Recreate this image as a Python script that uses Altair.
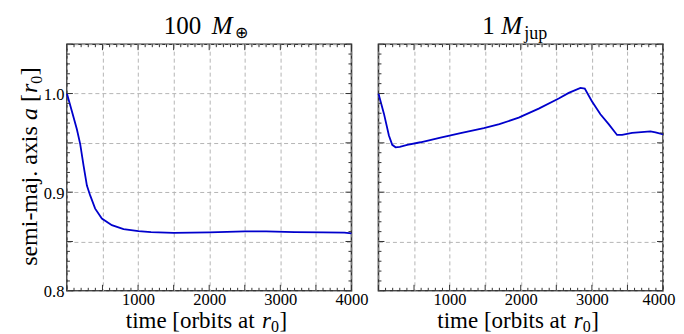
import altair as alt
import pandas as pd

# ---- data ----
t_earth = [0, 70, 140, 187, 234, 281, 327, 397, 491, 632, 796, 1006, 1183, 1500, 2000,
           2500, 2800, 3200, 3600, 3900, 4000]
a_earth = [1.0, 0.982, 0.9638, 0.9487, 0.9269, 0.9067, 0.8967, 0.8833, 0.8733, 0.8665,
           0.8625, 0.8605, 0.8595, 0.8588, 0.8592, 0.8602, 0.8602, 0.8595, 0.8593, 0.8590, 0.8582]

t_jup = [0, 77, 147, 194, 241, 300, 404, 592, 873, 1154, 1481, 1700, 1972, 2253, 2534,
         2675, 2840, 2900, 3000, 3120, 3236, 3354, 3425, 3565, 3823, 3894, 3988, 4000]
a_jup = [1.0, 0.9796, 0.9574, 0.948, 0.9455, 0.946, 0.9479, 0.9506, 0.9554, 0.9598, 0.9649,
         0.9690, 0.9755, 0.9847, 0.9949, 1.0006, 1.0057, 1.0051, 0.9921, 0.979, 0.969, 0.958,
         0.958, 0.960, 0.9617, 0.9606, 0.9588, 0.9588]

x_major = [0, 500, 1000, 1500, 2000, 2500, 3000, 3500, 4000]
x_minor = [v for v in range(0, 4001, 100) if v % 500 != 0]
y_major = [0.80, 0.85, 0.90, 0.95, 1.00, 1.05]
y_minor = [round(0.80 + 0.01 * i, 2) for i in range(26) if i % 5 != 0]

titles_left = ["100", "M", "⊕"]
titles_right = ["1", "M", "jup"]
xtitle = ["time [orbits at", "r", "0", "]"]
ytitle = ["semi-maj. axis", "a", "[", "r", "0", "]"]

FONT = "Liberation Serif"
W, H = 285, 247
LINE_COLOR = "#0000cc"
FRAME = "#333333"

xs = alt.Scale(domain=[0, 4000], nice=False, zero=False)
ys = alt.Scale(domain=[0.8, 1.05], nice=False, zero=False)

XLABEL_EXPR = "datum.value % 1000 == 0 && datum.value > 0 ? format(datum.value, 'd') : ''"


def make_axes(left):
    if left:
        xaxis = alt.Axis(values=x_major, grid=True, ticks=False, domain=False, labelFlush=False,
                         labelExpr=XLABEL_EXPR, title="", labelPadding=1)
        yaxis = alt.Axis(values=y_major, grid=True, ticks=False, domain=False, labelFlush=False,
                         labelExpr="abs(datum.value*10 - round(datum.value*10)) < 0.001 ? format(datum.value, '.1f') : ''",
                         title="", labelPadding=3, labelBaseline="middle", labelOffset=1)
    else:
        xaxis = alt.Axis(values=x_major, grid=True, ticks=False, domain=False, labelFlush=True,
                         labelFlushOffset=12, labelExpr=XLABEL_EXPR, title="", labelPadding=1)
        yaxis = alt.Axis(values=y_major, grid=True, ticks=False, domain=False,
                         labels=False, title="")
    return xaxis, yaxis


def ticks_layers(xaxis, yaxis):
    mx = pd.DataFrame({"t": x_major})
    nx = pd.DataFrame({"t": x_minor})
    my = pd.DataFrame({"a": y_major})
    ny = pd.DataFrame({"a": y_minor})
    layers = []
    for df, L in ((mx, 6), (nx, 3)):
        base = alt.Chart(df).mark_rule(color=FRAME, strokeWidth=1)
        layers.append(base.encode(x=alt.X("t:Q", scale=xs, axis=xaxis),
                                  y=alt.value(H), y2=alt.value(H - L)))
        layers.append(base.encode(x=alt.X("t:Q", scale=xs, axis=xaxis),
                                  y=alt.value(0), y2=alt.value(L)))
    for df, L in ((my, 6), (ny, 3)):
        base = alt.Chart(df).mark_rule(color=FRAME, strokeWidth=1)
        layers.append(base.encode(y=alt.Y("a:Q", scale=ys, axis=yaxis),
                                  x=alt.value(0), x2=alt.value(L)))
        layers.append(base.encode(y=alt.Y("a:Q", scale=ys, axis=yaxis),
                                  x=alt.value(W), x2=alt.value(W - L)))
    return layers


def text_layers(parts, angle=0):
    out = []
    for text, x, y, size, style in parts:
        kw = dict(text=text, font=FONT, fontSize=size, fontStyle=style, align="left",
                  baseline="alphabetic", color="black")
        if angle:
            kw["angle"] = angle
        out.append(alt.Chart(alt.Data(values=[{}])).mark_text(**kw).encode(
            x=alt.value(x), y=alt.value(y)))
    return out


# x-axis title pieces (positions relative to the plot area)
XB = H + 37
x_title_parts = [
    (xtitle[0], 59, XB, 23, "normal"),
    (xtitle[1], 195.5, XB, 23, "italic"),
    (xtitle[2], 204.5, XB + 4, 16, "normal"),
    (xtitle[3], 213, XB, 23, "normal"),
]
# y-axis title pieces (rotated, reading bottom to top)
YX = -30
y_title_parts = [
    (ytitle[0], YX, 222, 24, "normal"),
    (ytitle[1], YX, 76, 24, "italic"),
    (ytitle[2], YX, 58, 24, "normal"),
    (ytitle[3], YX, 49, 24, "italic"),
    (ytitle[4], YX + 5, 39.5, 16, "normal"),
    (ytitle[5], YX, 31, 24, "normal"),
]


def panel(t, a, left, parts):
    df = pd.DataFrame({"t": t, "a": a})
    xaxis, yaxis = make_axes(left)
    line = alt.Chart(df).mark_line(color=LINE_COLOR, strokeWidth=1.8).encode(
        x=alt.X("t:Q", scale=xs, axis=xaxis),
        y=alt.Y("a:Q", scale=ys, axis=yaxis),
        order="t:Q",
    )
    layers = [line, *ticks_layers(xaxis, yaxis), *text_layers(parts), *text_layers(x_title_parts)]
    if left:
        layers += text_layers(y_title_parts, angle=270)
    return alt.layer(*layers).properties(width=W, height=H)


left_parts = [(titles_left[0], 97, -10, 25, "normal"), (titles_left[1], 145, -10, 25, "italic"),
              (titles_left[2], 168, -6, 16, "normal")]
right_parts = [(titles_right[0], 104, -10, 25, "normal"), (titles_right[1], 123, -10, 25, "italic"),
               (titles_right[2], 146, -5, 18, "normal")]

chart = alt.hconcat(
    panel(t_earth, a_earth, True, left_parts),
    panel(t_jup, a_jup, False, right_parts),
    spacing=27, bounds="flush",
).configure_view(
    stroke=FRAME, strokeWidth=1.6
).configure_axis(
    labelFont=FONT, titleFont=FONT, labelFontSize=16.5, titleFontSize=21,
    labelColor="black", titleColor="black", titleFontWeight="normal",
    gridColor="#b5b5b5", gridDash=[4, 3], gridWidth=1,
).properties(
    padding={"left": 9, "top": 5, "right": 0, "bottom": 0}
)

chart.save("out.html", embed_options={"renderer": "svg", "actions": False})
